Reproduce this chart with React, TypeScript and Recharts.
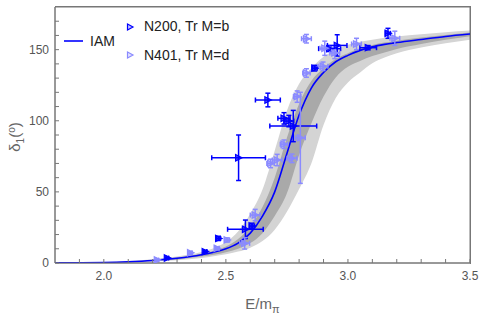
import React from "react";
import {
  ComposedChart,
  Area,
  Line,
  Scatter,
  ErrorBar,
  XAxis,
  YAxis,
  Legend,
  ReferenceArea,
} from "recharts";

// IAM curve and its uncertainty bands
const E_GRID = [1.8, 1.9, 2.0, 2.1, 2.2, 2.3, 2.4, 2.45, 2.5, 2.55, 2.6, 2.65, 2.7, 2.75, 2.8, 2.85, 2.9, 2.95, 3.0, 3.05, 3.1, 3.15, 3.2, 3.3, 3.4, 3.5];
const IAM = [0.1, 0.2, 0.4, 0.9, 1.8, 3.3, 5.8, 7.6, 10, 14, 21, 33, 50, 77, 104, 123, 134, 141.5, 146, 149.5, 152, 153.7, 155, 157.2, 159.3, 161];
const DARK_LO = [0.05, 0.1, 0.25, 0.6, 1.3, 2.5, 4.5, 5.8, 7.6, 10, 14, 21, 33, 49, 76, 98, 117, 130.5, 138, 142, 145.5, 148, 150.5, 154, 157, 159.5];
const DARK_HI = [0.15, 0.3, 0.55, 1.1, 2.1, 3.8, 6.5, 8.5, 11.6, 16.8, 25.8, 39.4, 60, 88, 112, 128, 137, 143.5, 147.5, 151, 153.3, 155, 156.3, 158.5, 160.3, 162];
const LIGHT_LO = [0.03, 0.06, 0.15, 0.4, 1.0, 1.9, 3.5, 4.8, 6.2, 8, 10.8, 15.4, 23.4, 36, 52, 70, 97, 116, 127, 134, 140.5, 144.5, 147.5, 151.5, 154.5, 157];
const LIGHT_HI = [0.2, 0.35, 0.7, 1.4, 2.6, 4.6, 7.8, 10.4, 14.7, 22.2, 34.6, 51.7, 79, 107, 126, 137, 145, 150, 153.5, 155.5, 157, 158.3, 159.3, 160.8, 162.2, 163.4];

// lattice points: N200, Tr M=b
const N200_E = [2.26, 2.415, 2.47, 2.552, 2.58, 2.607, 2.672, 2.738, 2.758, 2.776, 2.864, 2.925, 2.956, 3.083, 3.164];
const N200_D = [3.5, 8, 17.3, 74, 23.7, 26, 114.6, 101.7, 99.8, 96.3, 137, 150.7, 153, 151.4, 161.5];
const N200_EX = [0.005, 0.007, 0.008, 0.11, 0.073, 0.01, 0.051, 0.025, 0.02, 0.096, 0.01, 0.045, 0.04, 0.034, 0.01];
const N200_EY = [0.5, 0.8, 1.5, 16, 6.5, 2, 4.8, 4, 4, 11, 2, 2, 7.5, 1.5, 3.5];

// lattice points: N401, Tr M=d
const N401_E = [2.219, 2.355, 2.464, 2.505, 2.577, 2.62, 2.683, 2.71, 2.738, 2.771, 2.792, 2.805, 2.83, 2.83, 2.898, 2.905, 2.946, 3.035, 3.192];
const N401_D = [2.1, 7.2, 10.3, 16.2, 13.8, 33.7, 70, 72.4, 83.5, 73.6, 117, 88, 133.6, 157.7, 138.3, 151, 147.7, 154, 158];
const N401_EX = [0.005, 0.006, 0.008, 0.01, 0.02, 0.02, 0.015, 0.02, 0.015, 0.02, 0.015, 0.02, 0.015, 0.02, 0.02, 0.02, 0.02, 0.02, 0.02];
const N401_EY = [0.5, 0.8, 1, 1.5, 4, 4, 3, 4, 3, 3, 4, 32, 3, 3, 3, 5, 4, 4, 5];

const X_TICKS = [1.9, 2.0, 2.1, 2.2, 2.3, 2.4, 2.5, 2.6, 2.7, 2.8, 2.9, 3.0, 3.1, 3.2, 3.3, 3.4, 3.5];
const X_LABELS = [2.0, 2.5, 3.0, 3.5];
const Y_TICKS = [0, 10, 20, 30, 40, 50, 60, 70, 80, 90, 100, 110, 120, 130, 140, 150, 160, 170];
const Y_LABELS = [0, 50, 100, 150];

const BLUE = "#0000ff";
const LIGHT_BLUE = "#8a8aff";
const FRAME = "#777";
const FONT = "'Liberation Sans', Arial, sans-serif";

const curve = E_GRID.map((e, i) => ({
  E: e,
  iam: IAM[i],
  dark: [DARK_LO[i], DARK_HI[i]],
  light: [LIGHT_LO[i], LIGHT_HI[i]],
}));
const n200 = N200_E.map((e, i) => ({ E: e, d: N200_D[i], ex: N200_EX[i], ey: N200_EY[i] }));
const n401 = N401_E.map((e, i) => ({ E: e, d: N401_D[i], ex: N401_EX[i], ey: N401_EY[i] }));

const triangle = (color: string) => (props: any) => {
  const { cx, cy } = props;
  if (cx == null || cy == null) return <g />;
  return (
    <polygon
      points={`${cx - 3},${cy - 3.2} ${cx + 3.5},${cy} ${cx - 3},${cy + 3.2}`}
      fill={color}
      fillOpacity={0.7}
      stroke={color}
      strokeWidth={1.2}
    />
  );
};

const XTick = (props: any) => {
  const { x, y, payload } = props;
  if (!X_LABELS.includes(payload.value)) return <g />;
  return (
    <text x={x} y={y} dy="0.71em" textAnchor="middle" fill="#555" fontSize={12} fontFamily={FONT}>
      {payload.value.toFixed(1)}
    </text>
  );
};

const YTick = (props: any) => {
  const { x, y, payload } = props;
  if (!Y_LABELS.includes(payload.value)) return <g />;
  return (
    <text x={x} y={y} dy="0.355em" textAnchor="end" fill="#555" fontSize={12} fontFamily={FONT}>
      {payload.value}
    </text>
  );
};

const renderLegend = () => (
  <svg width={260} height={70} style={{ display: "block" }}>
    <line x1={64} x2={83} y1={41} y2={41} stroke={BLUE} strokeWidth={1.6} />
    <text x={90} y={46} fontSize={14} fontFamily={FONT} fill="#222">IAM</text>
    <polygon points="127.5,24 133,27 127.5,30" fill={BLUE} fillOpacity={0.25} stroke={BLUE} strokeWidth={1.2} />
    <text x={144} y={31} fontSize={14} fontFamily={FONT} fill="#222">N200, Tr M=b</text>
    <polygon points="127.5,52 133,55 127.5,58" fill={LIGHT_BLUE} fillOpacity={0.25} stroke={LIGHT_BLUE} strokeWidth={1.2} />
    <text x={144} y={59.5} fontSize={14} fontFamily={FONT} fill="#222">N401, Tr M=d</text>
  </svg>
);

export default function App() {
  return (
    <div style={{ position: "absolute", left: 0, top: 0, width: 480, height: 320, background: "#fff" }}>
      <div style={{ position: "absolute", left: 0, top: 0 }}>
        <ComposedChart width={480} height={320} data={curve} margin={{ top: 7, right: 10, bottom: 0, left: 0 }}>
          <XAxis
            dataKey="E"
            type="number"
            domain={[1.8, 3.5]}
            allowDataOverflow
            ticks={X_TICKS}
            interval={0}
            tick={<XTick />}
            tickSize={-4}
            tickMargin={12}
            height={57}
            axisLine={{ stroke: FRAME }}
            tickLine={{ stroke: FRAME }}
            label={{
              content: (p: any) => {
                const vb = p.viewBox;
                return (
                  <text x={vb.x + vb.width / 2} y={vb.y + 46} textAnchor="middle" fill="#666" fontSize={15} fontFamily={FONT}>
                    E/m<tspan fontSize={11} dy={4}>π</tspan>
                  </text>
                );
              },
            }}
          />
          <YAxis
            type="number"
            domain={[0, 180]}
            allowDataOverflow
            ticks={Y_TICKS}
            interval={0}
            tick={<YTick />}
            tickSize={-4}
            tickMargin={10}
            width={55}
            axisLine={{ stroke: FRAME }}
            tickLine={{ stroke: FRAME }}
            label={{
              content: (p: any) => {
                const vb = p.viewBox;
                const cx = vb.x + 20;
                const cy = vb.y + vb.height / 2 + 2;
                return (
                  <text x={cx} y={cy} transform={`rotate(-90, ${cx}, ${cy})`} textAnchor="middle" fill="#666" fontSize={15} fontFamily={FONT}>
                    δ<tspan fontSize={10} dy={4}>1</tspan>
                    <tspan dy={-4}>(</tspan>
                    <tspan fontSize={10} dy={-5}>o</tspan>
                    <tspan dy={5}>)</tspan>
                  </text>
                );
              },
            }}
          />
          <Area dataKey="light" type="monotone" stroke="none" fill="#d4d4d4" fillOpacity={1} isAnimationActive={false} activeDot={false} />
          <Area dataKey="dark" type="monotone" stroke="none" fill="#a9a9a9" fillOpacity={1} isAnimationActive={false} activeDot={false} />
          <Line dataKey="iam" type="monotone" stroke={BLUE} strokeWidth={1.6} dot={false} activeDot={false} isAnimationActive={false} />
          <ReferenceArea x1={1.8} x2={3.5} y1={0} y2={180} fill="none" stroke={FRAME} strokeWidth={1} ifOverflow="visible" />
          <Scatter data={n200} dataKey="d" shape={triangle(BLUE)} isAnimationActive={false}>
            <ErrorBar dataKey="ex" direction="x" width={2.5} stroke={BLUE} strokeWidth={1.5} />
            <ErrorBar dataKey="ey" direction="y" width={2.5} stroke={BLUE} strokeWidth={1.5} />
          </Scatter>
          <Scatter data={n401} dataKey="d" shape={triangle(LIGHT_BLUE)} isAnimationActive={false}>
            <ErrorBar dataKey="ex" direction="x" width={2.5} stroke={LIGHT_BLUE} strokeWidth={1.5} />
            <ErrorBar dataKey="ey" direction="y" width={2.5} stroke={LIGHT_BLUE} strokeWidth={1.5} />
          </Scatter>
          <Legend
            layout="vertical"
            align="center"
            verticalAlign="middle"
            wrapperStyle={{ left: 0, top: 0, width: 260, height: 70 }}
            content={renderLegend}
          />
        </ComposedChart>
      </div>
      {/* top and right edges of the plot frame, laid over the chart */}
      <div
        style={{
          position: "absolute",
          left: 55,
          top: 6,
          width: 416,
          height: 258,
          boxSizing: "border-box",
          borderTop: `1px solid ${FRAME}`,
          borderRight: `1px solid ${FRAME}`,
          pointerEvents: "none",
          zIndex: 5,
        }}
      />
    </div>
  );
}
